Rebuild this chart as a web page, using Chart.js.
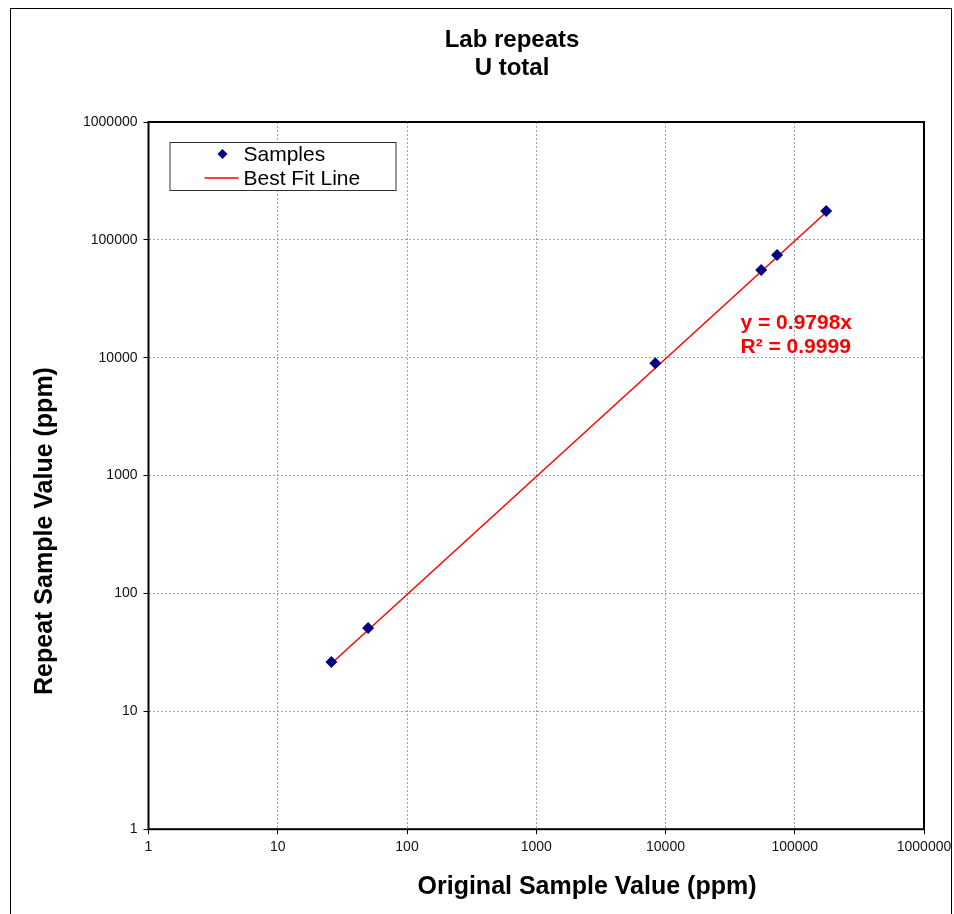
<!DOCTYPE html>
<html>
<head>
<meta charset="utf-8">
<script src="https://cdn.jsdelivr.net/npm/chart.js@4/dist/chart.umd.min.js"></script>
<style>
  html, body { margin: 0; padding: 0; background: #fff; }
  #wrap { width: 954px; height: 914px; position: relative; }
</style>
</head>
<body>
<div id="wrap"><canvas id="c" width="954" height="914"></canvas></div>
<script>
// ---- data ----
const titleLines = ["Lab repeats", "U total"];
const xAxisTitle = "Original Sample Value (ppm)";
const yAxisTitle = "Repeat Sample Value (ppm)";
const tickValues = [1, 10, 100, 1000, 10000, 100000, 1000000];
const sampleX = [26, 50, 8340, 55000, 73000, 175000];
const sampleY = [26.2, 51, 9000, 55600, 74500, 176000];
const fitX = [26, 175000];
const fitY = [25.47, 171465];
const equationLines = ["y = 0.9798x", "R\u00B2 = 0.9999"];
const legendLabels = ["Samples", "Best Fit Line"];

const FONT = "'Liberation Sans', Arial, sans-serif";

const framePlugin = {
  id: 'frame',
  beforeDraw(chart) {
    const ctx = chart.ctx;
    ctx.save();
    ctx.fillStyle = '#fff';
    ctx.fillRect(0, 0, chart.width, chart.height);
    ctx.strokeStyle = '#000';
    ctx.lineWidth = 1;
    ctx.beginPath();
    ctx.moveTo(10.5, 914);
    ctx.lineTo(10.5, 8.5);
    ctx.lineTo(951.5, 8.5);
    ctx.lineTo(951.5, 914);
    ctx.stroke();
    ctx.restore();
  },
  afterDraw(chart) {
    const ctx = chart.ctx;
    const a = chart.chartArea;
    ctx.save();
    // plot border
    ctx.strokeStyle = '#000';
    ctx.lineWidth = 2;
    ctx.strokeRect(a.left, a.top, a.right - a.left, a.bottom - a.top);

    // chart title
    ctx.fillStyle = '#000';
    ctx.textAlign = 'center';
    ctx.textBaseline = 'middle';
    ctx.font = 'bold 24px ' + FONT;
    ctx.fillText(titleLines[0], 512, 40);
    ctx.fillText(titleLines[1], 512, 68);

    // axis titles
    ctx.font = 'bold 25px ' + FONT;
    ctx.fillText(xAxisTitle, 587, 887);
    ctx.save();
    ctx.translate(45, 531);
    ctx.rotate(-Math.PI / 2);
    ctx.fillText(yAxisTitle, 0, 0);
    ctx.restore();

    // legend box
    const lx = a.left + 21, ly = a.top + 20, lw = 226, lh = 48;
    ctx.fillStyle = '#fff';
    ctx.fillRect(lx, ly, lw, lh);
    ctx.lineWidth = 1;
    ctx.strokeStyle = '#333';
    ctx.strokeRect(lx + 0.5, ly + 0.5, lw, lh);
    // sample marker
    const mx = lx + 53, my1 = ly + 12;
    ctx.fillStyle = '#000080';
    ctx.beginPath();
    ctx.moveTo(mx, my1 - 5); ctx.lineTo(mx + 5, my1); ctx.lineTo(mx, my1 + 5); ctx.lineTo(mx - 5, my1);
    ctx.closePath(); ctx.fill();
    // fit line
    const my2 = ly + 36;
    ctx.strokeStyle = '#ff0000';
    ctx.lineWidth = 1.5;
    ctx.beginPath(); ctx.moveTo(lx + 35, my2); ctx.lineTo(lx + 69, my2); ctx.stroke();
    ctx.fillStyle = '#000';
    ctx.font = '21px ' + FONT;
    ctx.textAlign = 'left';
    ctx.fillText(legendLabels[0], lx + 74, my1 + 1);
    ctx.fillText(legendLabels[1], lx + 74, my2 + 1);
    // equation
    ctx.fillStyle = '#ff0000';
    ctx.font = 'bold 21px ' + FONT;
    ctx.fillText(equationLines[0], a.left + 592, a.top + 201);
    ctx.fillText(equationLines[1], a.left + 592, a.top + 225);
    ctx.restore();
  }
};

const gridCfg = {
  color: '#a0a0a0',
  lineWidth: 1,
  drawTicks: true,
  tickLength: 5,
  tickColor: '#000',
  tickBorderDash: [],
  tickWidth: 1
};
const borderCfg = { display: false, dash: [2, 2] };

new Chart(document.getElementById('c'), {
  type: 'scatter',
  data: {
    datasets: [
      {
        label: legendLabels[0],
        data: sampleX.map((x, i) => ({ x: x, y: sampleY[i] })),
        pointStyle: 'rectRot',
        pointRadius: 6,
        backgroundColor: '#000080',
        borderColor: '#000080',
        borderWidth: 0,
        order: 1
      },
      {
        label: legendLabels[1],
        type: 'line',
        data: fitX.map((x, i) => ({ x: x, y: fitY[i] })),
        borderColor: '#ff0000',
        borderWidth: 1.5,
        pointRadius: 0,
        fill: false,
        order: 2
      }
    ]
  },
  plugins: [framePlugin],
  options: {
    responsive: false,
    animation: false,
    devicePixelRatio: 1,
    layout: { padding: { top: 122, left: 77, right: 30, bottom: 53 } },
    plugins: {
      legend: { display: false },
      tooltip: { enabled: false },
      title: { display: false }
    },
    scales: {
      x: {
        type: 'logarithmic',
        min: 1, max: 1000000,
        afterBuildTicks(scale) { scale.ticks = tickValues.map(v => ({ value: v })); },
        afterFit(scale) { scale.paddingRight = 0; scale.paddingLeft = 0; },
        ticks: {
          color: '#111',
          font: { family: FONT, size: 14 },
          maxRotation: 0,
          padding: 5,
          callback: (v) => String(v)
        },
        grid: gridCfg,
        border: borderCfg
      },
      y: {
        type: 'logarithmic',
        min: 1, max: 1000000,
        afterBuildTicks(scale) { scale.ticks = tickValues.map(v => ({ value: v })); },
        ticks: {
          color: '#111',
          font: { family: FONT, size: 14 },
          padding: 6,
          callback: (v) => String(v)
        },
        grid: gridCfg,
        border: borderCfg
      }
    }
  }
});
</script>
</body>
</html>
